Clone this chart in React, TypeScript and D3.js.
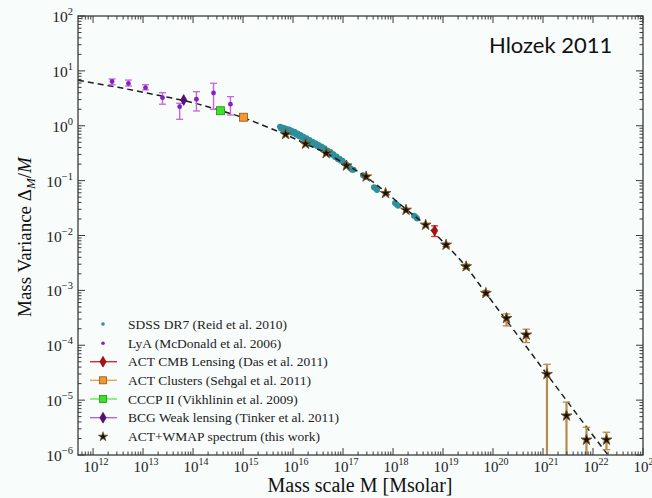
import React from "react";
import * as d3 from "d3";

// ---- data ----
const curveM = [5.0e11, 1e12, 3.16e12, 1e13, 3.16e13, 1e14, 3.16e14, 1e15, 3.16e15, 7.1e15, 1.78e16, 4.6e16, 1.17e17, 2.9e17, 7.1e17, 1.82e18, 4.5e18, 1.15e19, 2.9e19, 7.2e19, 1.86e20, 4.6e20, 1.2e21, 3.16e21, 7.9e21, 2.0e22];
const curveDelta = [6.76, 6.03, 5.01, 4.07, 3.31, 2.63, 1.95, 1.41, 0.933, 0.692, 0.468, 0.316, 0.195, 0.117, 0.0617, 0.0302, 0.0155, 0.00676, 0.00269, 8.9e-4, 2.82e-4, 9.5e-5, 2.95e-5, 9.1e-6, 3.0e-6, 1.0e-6];

const lyaM = [2.4e12, 5.1e12, 1.12e13, 2.45e13, 5.4e13, 1.17e14, 2.57e14, 5.6e14];
const lyaDelta = [6.4, 5.9, 4.95, 3.25, 2.23, 3.04, 3.95, 2.47];
const lyaLo = [5.6, 5.3, 4.5, 2.47, 1.31, 1.86, 2.0, 1.57];
const lyaHi = [7.1, 6.8, 5.6, 4.0, 2.57, 4.18, 5.94, 3.39];

const bcgM = [6.5e13];
const bcgDelta = [2.95];
const bcgLo = [2.7];
const bcgHi = [3.2];

const cccpM = [3.55e14];
const cccpDelta = [1.88];

const clustersM = [1.02e15];
const clustersDelta = [1.43];

const lensM = [6.8e18];
const lensDelta = [0.0123];
const lensLo = [0.0096];
const lensHi = [0.015];

const starM = [7.1e15, 1.78e16, 4.6e16, 1.17e17, 2.9e17, 7.1e17, 1.82e18, 4.5e18, 1.15e19, 2.9e19, 7.2e19, 1.86e20, 4.6e20, 1.2e21, 2.95e21, 7.4e21, 1.86e22];
const starDelta = [0.70, 0.467, 0.316, 0.187, 0.118, 0.059, 0.0292, 0.0156, 0.00675, 0.00272, 8.9e-4, 3.11e-4, 1.55e-4, 2.97e-5, 5.2e-6, 1.89e-6, 1.89e-6];
const starLo = [0.70, 0.467, 0.316, 0.187, 0.118, 0.059, 0.0292, 0.0156, 0.0063, 0.0025, 8.1e-4, 2.25e-4, 1.12e-4, 1e-7, 1e-7, 1e-7, 1.25e-6];
const starHi = [0.70, 0.467, 0.316, 0.187, 0.118, 0.059, 0.0292, 0.0156, 0.0072, 0.003, 9.8e-4, 3.73e-4, 1.96e-4, 4.5e-5, 9.2e-6, 3.2e-6, 2.6e-6];

// SDSS DR7 points, stored as log10 values
const sdssLogM = [15.74, 15.76, 15.78, 15.80, 15.82, 15.85, 15.87, 15.90, 15.92, 15.95, 15.97, 16.00, 16.03, 16.06, 16.09, 16.12, 16.15, 16.18, 16.21, 16.24, 16.27, 16.30, 16.33, 16.36, 16.39, 16.42, 16.45, 16.48, 16.51, 16.54, 16.57, 16.60, 16.63, 16.66, 16.69, 16.72, 16.75, 16.78, 16.81, 16.84, 16.87, 16.90, 16.93, 16.96, 16.99, 17.02, 17.06, 17.10, 17.14, 17.18, 17.21, 17.40, 17.44, 17.62, 17.65, 17.68, 18.04, 18.07, 18.10, 18.42, 18.45, 18.48];
const sdssLogDelta = [-0.02, -0.05, -0.03, -0.07, -0.04, -0.08, -0.06, -0.10, -0.07, -0.12, -0.09, -0.13, -0.11, -0.16, -0.14, -0.19, -0.17, -0.22, -0.20, -0.25, -0.23, -0.28, -0.26, -0.31, -0.29, -0.34, -0.32, -0.37, -0.35, -0.40, -0.38, -0.43, -0.41, -0.46, -0.45, -0.50, -0.48, -0.53, -0.52, -0.57, -0.56, -0.61, -0.60, -0.64, -0.64, -0.68, -0.70, -0.73, -0.77, -0.80, -0.80, -0.90, -0.93, -1.12, -1.14, -1.17, -1.41, -1.43, -1.46, -1.64, -1.66, -1.69];

const xMajor = [1e12, 1e13, 1e14, 1e15, 1e16, 1e17, 1e18, 1e19, 1e20, 1e21, 1e22, 1e23];
const xMajorExp = ["12", "13", "14", "15", "16", "17", "18", "19", "20", "21", "22", "23"];
const yMajor = [1e-6, 1e-5, 1e-4, 1e-3, 1e-2, 1e-1, 1e0, 1e1, 1e2];
const yMajorExp = ["\u22126", "\u22125", "\u22124", "\u22123", "\u22122", "\u22121", "0", "1", "2"];

const legendLabels = [
  "SDSS DR7 (Reid et al. 2010)",
  "LyA (McDonald et al. 2006)",
  "ACT CMB Lensing (Das et al. 2011)",
  "ACT Clusters (Sehgal et al. 2011)",
  "CCCP II (Vikhlinin et al. 2009)",
  "BCG Weak lensing (Tinker et al. 2011)",
  "ACT+WMAP spectrum (this work)",
];

// ---- layout ----
const W = 652, H = 498;
const L = 78, R = 643, T = 16, B = 455;
const x = d3.scaleLog().domain([5e11, 1e23]).range([L, R]);
const y = d3.scaleLog().domain([1e-6, 1e2]).range([B, T]);

const SERIF = "'Liberation Serif', 'Times New Roman', serif";
const TEAL = "#2f8f9c";
const LYA = "#8a1fc0";
const LYA_ERR = "#c464e0";
const STAR_ERR = "#b98a4e";

const starPath = d3.symbol().type(d3.symbolStar).size(36)() as string;
const diamondPath = d3.symbol().type(d3.symbolDiamond).size(34)() as string;

function minorTicks(lo: number, hi: number) {
  const out: number[] = [];
  for (let e = lo; e <= hi; e++) for (let k = 2; k <= 9; k++) out.push(k * Math.pow(10, e));
  return out;
}

function ErrBar({ cx, y0, y1, color, w, cap }: { cx: number; y0: number; y1: number; color: string; w: number; cap: number }) {
  const a = Math.max(T, Math.min(B, y0));
  const b = Math.max(T, Math.min(B, y1));
  return (
    <g stroke={color} strokeWidth={w} fill="none">
      <line x1={cx} x2={cx} y1={a} y2={b} />
      {y0 >= T && y0 <= B && <line x1={cx - cap} x2={cx + cap} y1={y0} y2={y0} strokeWidth={1.3} />}
      {y1 >= T && y1 <= B && <line x1={cx - cap} x2={cx + cap} y1={y1} y2={y1} strokeWidth={1.3} />}
    </g>
  );
}

export default function App() {
  const line = d3
    .line<number>()
    .x((_, i) => x(curveM[i]))
    .y((_, i) => y(curveDelta[i]))
    .curve(d3.curveMonotoneX);
  const curveD = line(curveM) as string;

  const xMinor = minorTicks(11, 22).filter((v) => v > 5e11 && v < 1e23);
  const yMinor = minorTicks(-6, 1).filter((v) => v > 1e-6 && v < 1e2);

  const legendY = [324, 343.3, 361.7, 380.3, 399, 417.7, 436.7];
  const lx = 103;

  return (
    <svg width={W} height={H} style={{ position: "absolute", left: 0, top: 0, background: "#f8fcfb" }} fontFamily={SERIF}>
      <rect x={0} y={0} width={W} height={H} fill="#f8fcfb" />
      <defs>
        <clipPath id="plot">
          <rect x={L} y={T} width={R - L} height={B - T} />
        </clipPath>
      </defs>

      <g clipPath="url(#plot)">
        {/* SDSS */}
        {sdssLogM.map((lm, i) => (
          <circle key={"s" + i} cx={x(Math.pow(10, lm))} cy={y(Math.pow(10, sdssLogDelta[i]))} r={3} fill={TEAL} />
        ))}

        {/* model curve */}
        <path d={curveD} fill="none" stroke="#1e1e1e" strokeWidth={1.5} strokeDasharray="6,4" />

        {/* LyA */}
        {lyaM.map((m, i) => (
          <g key={"l" + i}>
            <ErrBar cx={x(m)} y0={y(lyaLo[i])} y1={y(lyaHi[i])} color={LYA_ERR} w={1.4} cap={3.5} />
            <circle cx={x(m)} cy={y(lyaDelta[i])} r={2.4} fill={LYA} />
          </g>
        ))}

        {/* BCG */}
        {bcgM.map((m, i) => (
          <g key={"b" + i}>
            <ErrBar cx={x(m)} y0={y(bcgLo[i])} y1={y(bcgHi[i])} color="#b050d0" w={1.4} cap={0} />
            <path d={diamondPath} transform={`translate(${x(m)},${y(bcgDelta[i])})`} fill="#5a0f78" stroke="#3a0850" strokeWidth={0.6} />
          </g>
        ))}

        {/* CCCP */}
        {cccpM.map((m, i) => (
          <rect key={"c" + i} x={x(m) - 4} y={y(cccpDelta[i]) - 4} width={8} height={8} fill="#3fe02a" stroke="#2a8a20" strokeWidth={0.8} />
        ))}

        {/* ACT clusters */}
        {clustersM.map((m, i) => (
          <rect key={"o" + i} x={x(m) - 4} y={y(clustersDelta[i]) - 4} width={8} height={8} fill="#f7962e" stroke="#8a5520" strokeWidth={0.8} />
        ))}

        {/* ACT CMB lensing */}
        {lensM.map((m, i) => (
          <g key={"r" + i}>
            <ErrBar cx={x(m)} y0={y(lensLo[i])} y1={y(lensHi[i])} color="#e0282a" w={1.4} cap={3.5} />
            <path d={diamondPath} transform={`translate(${x(m)},${y(lensDelta[i])})`} fill="#b01010" stroke="#700808" strokeWidth={0.6} />
          </g>
        ))}

        {/* ACT+WMAP stars */}
        {starM.map((m, i) => (
          <g key={"st" + i}>
            {starHi[i] > starLo[i] && (
              <ErrBar cx={x(m)} y0={y(starLo[i])} y1={y(starHi[i])} color={STAR_ERR} w={2.2} cap={3.8} />
            )}
            <path d={starPath} transform={`translate(${x(m)},${y(starDelta[i])})`} fill="#1a1208" stroke="#7a5528" strokeWidth={1} />
          </g>
        ))}
      </g>

      {/* frame */}
      <rect x={L} y={T} width={R - L} height={B - T} fill="none" stroke="#3a3a3a" strokeWidth={1.3} />

      {/* ticks */}
      <g stroke="#3a3a3a" strokeWidth={1}>
        {xMajor.map((v, i) => (
          <g key={"xm" + i}>
            <line x1={x(v)} x2={x(v)} y1={B} y2={B - 7} />
            <line x1={x(v)} x2={x(v)} y1={T} y2={T + 7} />
          </g>
        ))}
        {xMinor.map((v, i) => (
          <g key={"xn" + i}>
            <line x1={x(v)} x2={x(v)} y1={B} y2={B - 3.5} />
            <line x1={x(v)} x2={x(v)} y1={T} y2={T + 3.5} />
          </g>
        ))}
        {yMajor.map((v, i) => (
          <g key={"ym" + i}>
            <line x1={L} x2={L + 7} y1={y(v)} y2={y(v)} />
            <line x1={R} x2={R - 7} y1={y(v)} y2={y(v)} />
          </g>
        ))}
        {yMinor.map((v, i) => (
          <g key={"yn" + i}>
            <line x1={L} x2={L + 3.5} y1={y(v)} y2={y(v)} />
            <line x1={R} x2={R - 3.5} y1={y(v)} y2={y(v)} />
          </g>
        ))}
      </g>

      {/* x tick labels */}
      <g fill="#222" fontSize={15}>
        {xMajor.map((v, i) => (
          <text key={"xl" + i} x={x(v) + 3} y={472} textAnchor="middle">
            10<tspan fontSize={10} dy={-7}>{xMajorExp[i]}</tspan>
          </text>
        ))}
      </g>

      {/* y tick labels */}
      <g fill="#222" fontSize={15.5}>
        {yMajor.map((v, i) => (
          <text key={"yl" + i} x={73} y={y(v) + 6} textAnchor="end">
            10<tspan fontSize={10.5} dy={-7}>{yMajorExp[i]}</tspan>
          </text>
        ))}
      </g>

      {/* axis labels */}
      <text x={360} y={492} textAnchor="middle" fontSize={20} fill="#111">
        Mass scale M [Msolar]
      </text>
      <text transform="translate(31,237) rotate(-90)" textAnchor="middle" fontSize={19} fill="#111">
        Mass Variance Δ<tspan fontStyle="italic" fontSize={13} dy={4}>M</tspan>
        <tspan dy={-4}>/</tspan>
        <tspan fontStyle="italic">M</tspan>
      </text>

      {/* annotation */}
      <text x={489} y={53} fontSize={22} fontFamily="Lato, 'Open Sans', sans-serif" fill="#111">
        Hlozek 2011
      </text>

      {/* legend */}
      <g fontSize={13.5} fill="#222">
        <circle cx={lx} cy={legendY[0]} r={1.8} fill={TEAL} />
        <circle cx={lx} cy={legendY[1]} r={1.8} fill={LYA} />
        <line x1={90} x2={117} y1={legendY[2]} y2={legendY[2]} stroke="#e0282a" strokeWidth={1.4} />
        <path d={diamondPath} transform={`translate(${lx},${legendY[2]})`} fill="#b01010" stroke="#700808" strokeWidth={0.6} />
        <line x1={90} x2={117} y1={legendY[3]} y2={legendY[3]} stroke="#f7a040" strokeWidth={1.4} />
        <rect x={lx - 3.5} y={legendY[3] - 3.5} width={7} height={7} fill="#f7962e" stroke="#8a5520" strokeWidth={0.8} />
        <line x1={90} x2={117} y1={legendY[4]} y2={legendY[4]} stroke="#5ff04a" strokeWidth={1.4} />
        <rect x={lx - 3.5} y={legendY[4] - 3.5} width={7} height={7} fill="#3fe02a" stroke="#2a8a20" strokeWidth={0.8} />
        <line x1={90} x2={117} y1={legendY[5]} y2={legendY[5]} stroke="#c060e0" strokeWidth={1.4} />
        <path d={diamondPath} transform={`translate(${lx},${legendY[5]})`} fill="#5a0f78" stroke="#3a0850" strokeWidth={0.6} />
        <path d={d3.symbol().type(d3.symbolStar).size(28)() as string} transform={`translate(${lx},${legendY[6]})`} fill="#1a1208" stroke="#6b4a22" strokeWidth={0.6} />
        {legendLabels.map((t, i) => (
          <text key={"lg" + i} x={128} y={legendY[i] + 4.5}>
            {t}
          </text>
        ))}
      </g>
    </svg>
  );
}
